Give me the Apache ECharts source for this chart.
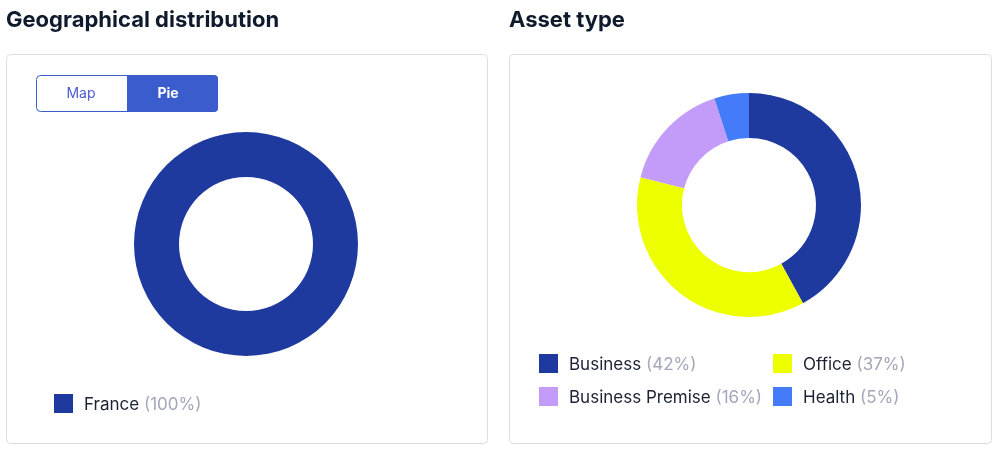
<!DOCTYPE html>
<html><head><meta charset="utf-8">
<script src="https://cdn.jsdelivr.net/npm/echarts@6/dist/echarts.min.js"></script>
<style>html,body{margin:0;padding:0;background:#fff}#c{width:1002px;height:457px}</style>
</head><body><div id="c"></div>
<script>
const geoCategories = ['France'];
const geoValues = [100];
const assetCategories = ['Business', 'Office', 'Business Premise', 'Health'];
const assetValues = [42, 37, 16, 5];
const geoColors = ['#1f3a9e'];
const assetColors = ['#1f3a9e', '#eeff00', '#c29cf8', '#437bf8'];

const FONT = 'Inter, "DejaVu Sans", sans-serif';
function pctMap(cats, vals) {
  const s = vals.reduce((a, b) => a + b, 0);
  const m = {};
  cats.forEach((c, i) => m[c] = Math.round(vals[i] / s * 100));
  return m;
}
const geoPct = pctMap(geoCategories, geoValues);
const assetPct = pctMap(assetCategories, assetValues);
const legendText = {
  color: '#1a2233', fontSize: 17, fontFamily: FONT, padding: [2, 0, 0, 6],
  rich: { p: { color: '#a3a7ba', fontSize: 17, fontFamily: FONT } }
};
const legendBase = {
  orient: 'vertical', icon: 'rect', itemWidth: 19, itemHeight: 19, itemGap: 14,
  textStyle: legendText, selectedMode: false, padding: 0
};

const chart = echarts.init(document.getElementById('c'), null, { renderer: 'canvas' });
chart.setOption({
  animation: false,
  graphic: [
    { type: 'text', left: 6, top: 9, style: { text: 'Geographical distribution', fill: '#0f1b2d', font: 'bold 22px ' + FONT } },
    { type: 'text', left: 509, top: 9, style: { text: 'Asset type', fill: '#0f1b2d', font: 'bold 22px ' + FONT } },
    { type: 'rect', shape: { x: 6.5, y: 54.5, width: 481, height: 389, r: 4 }, style: { fill: '#fff', stroke: '#dcdde3', lineWidth: 1 }, z: -10 },
    { type: 'rect', shape: { x: 509.5, y: 54.5, width: 482, height: 389, r: 4 }, style: { fill: '#fff', stroke: '#dcdde3', lineWidth: 1 }, z: -10 },
    { type: 'rect', shape: { x: 36.5, y: 75.5, width: 181, height: 36, r: 4 }, style: { fill: '#fff', stroke: '#3b5ccc', lineWidth: 1 } },
    { type: 'rect', shape: { x: 127, y: 75, width: 91, height: 37, r: [0, 4, 4, 0] }, style: { fill: '#3b5ccc' } },
    { type: 'text', x: 81, y: 94, style: { text: 'Map', fill: '#4a5bd0', font: '14px ' + FONT, align: 'center', verticalAlign: 'middle' } },
    { type: 'text', x: 168, y: 94, style: { text: 'Pie', fill: '#fff', font: 'bold 14px ' + FONT, align: 'center', verticalAlign: 'middle' } }
  ],
  legend: [
    Object.assign({}, legendBase, { data: geoCategories, left: 54, top: 394,
      formatter: n => n + ' {p|(' + geoPct[n] + '%)}' }),
    Object.assign({}, legendBase, { data: [assetCategories[0], assetCategories[2]], left: 539, top: 354,
      formatter: n => n + ' {p|(' + assetPct[n] + '%)}' }),
    Object.assign({}, legendBase, { data: [assetCategories[1], assetCategories[3]], left: 773, top: 354,
      formatter: n => n + ' {p|(' + assetPct[n] + '%)}' })
  ],
  series: [
    {
      type: 'pie', center: [246, 244], radius: [67, 112], startAngle: 90, clockwise: true,
      label: { show: false }, labelLine: { show: false }, silent: true,
      data: geoCategories.map((c, i) => ({ name: c, value: geoValues[i], itemStyle: { color: geoColors[i] } }))
    },
    {
      type: 'pie', center: [749, 205], radius: [67, 112], startAngle: 90, clockwise: true,
      label: { show: false }, labelLine: { show: false }, silent: true,
      data: assetCategories.map((c, i) => ({ name: c, value: assetValues[i], itemStyle: { color: assetColors[i] } }))
    }
  ]
});
</script></body></html>
